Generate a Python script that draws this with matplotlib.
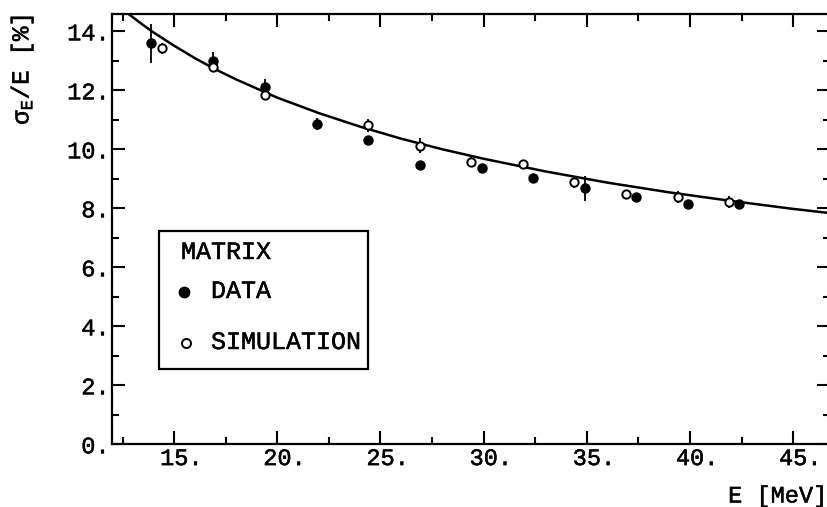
import matplotlib
matplotlib.use('Agg')
import matplotlib.pyplot as plt
import matplotlib.patheffects as pe
from matplotlib.patches import Rectangle
from matplotlib.lines import Line2D

plt.rcParams['font.family'] = ['Liberation Mono', 'DejaVu Sans']
plt.rcParams['mathtext.fontset'] = 'custom'
plt.rcParams['mathtext.rm'] = 'Liberation Mono'
plt.rcParams['mathtext.it'] = 'Liberation Mono'
plt.rcParams['mathtext.bf'] = 'Liberation Mono:bold'

# measured resolution (filled points)
data_E = [13.9, 16.9, 19.4, 21.9, 24.4, 26.9, 29.9, 32.4, 34.9, 37.4, 39.9, 42.4]
data_res = [13.6, 13.0, 12.1, 10.85, 10.3, 9.48, 9.38, 9.02, 8.68, 8.39, 8.14, 8.14]
data_err = [0.66, 0.3, 0.28, 0.2, 0.15, 0.1, 0.1, 0.15, 0.43, 0.08, 0.08, 0.08]

# simulated resolution (open points)
sim_E = [14.4, 16.9, 19.4, 24.4, 26.9, 29.4, 31.9, 34.4, 36.9, 39.4, 41.9]
sim_res = [13.42, 12.8, 11.84, 10.82, 10.12, 9.58, 9.49, 8.88, 8.48, 8.39, 8.22]
sim_err = [0.2, 0.15, 0.15, 0.22, 0.25, 0.15, 0.15, 0.2, 0.15, 0.2, 0.2]

# fitted curve
fit_E = [12.8, 13.5, 14, 15, 16, 17, 18, 20, 22, 24, 26, 28, 30, 33, 36, 39, 42, 45, 47]
fit_res = [14.58, 14.21, 13.96, 13.51, 13.09, 12.71, 12.37, 11.75, 11.23, 10.77,
           10.36, 10.00, 9.68, 9.25, 8.87, 8.54, 8.25, 7.98, 7.82]

x_major = [15, 20, 25, 30, 35, 40, 45]
x_minor = [12.5, 17.5, 22.5, 27.5, 32.5, 37.5, 42.5]
y_major = [0, 2, 4, 6, 8, 10, 12, 14]
y_minor = [1, 3, 5, 7, 9, 11, 13]

W, H = 828, 507
fs = 17
thick = [pe.withStroke(linewidth=0.35, foreground='black')]

fig = plt.figure(figsize=(W / 100, H / 100), dpi=100)
ax = fig.add_axes([112.3 / W, (H - 444.3) / H, (830 - 112.3) / W, (444.3 - 13.5) / H])
ax.set_xlim(12, 12 + (830 - 112.3) / 20.63)
ax.set_ylim(0, (444.3 - 13.5) / 29.5)

ax.plot(fit_E, fit_res, color='black', lw=1.8, zorder=2)
ax.errorbar(data_E, data_res, yerr=data_err, fmt='o', color='black', ms=6.5,
            elinewidth=1.3, capsize=0, zorder=3)
ax.errorbar(sim_E, sim_res, yerr=sim_err, fmt='o', color='black', mfc='white',
            mec='black', mew=1.4, ms=6, elinewidth=1.3, capsize=0, zorder=4)

for s in ax.spines.values():
    s.set_linewidth(1.6)

ax.set_xticks(x_major)
ax.set_xticklabels([' %d.' % v for v in x_major])
ax.set_xticks(x_minor, minor=True)
ax.set_yticks(y_major)
ax.set_yticklabels(['%d.' % v for v in y_major])
ax.set_yticks(y_minor, minor=True)
ax.tick_params(which='both', direction='in', top=True, right=True, width=1.5,
               labelsize=fs)
ax.tick_params(which='major', length=9.5)
ax.tick_params(which='minor', length=5)
ax.tick_params(axis='x', pad=2)
ax.tick_params(axis='y', pad=2)
for lab in ax.get_xticklabels() + ax.get_yticklabels():
    lab.set_path_effects(thick)

fig.text(22 / W, 1 - 15 / H, r'$\sigma_{\rm E}$/E [%]', rotation=90, ha='center',
         va='top', fontsize=fs + 0.5, path_effects=thick)
fig.text(827 / W, 1 - 496 / H, 'E [MeV]', ha='right', va='center', fontsize=fs,
         path_effects=thick)

# key box
fig.add_artist(Rectangle((159 / W, 1 - 369.3 / H), (368 - 159) / W, (369.3 - 230.7) / H,
                         transform=fig.transFigure, fill=False, lw=1.6, ec='black'))
fig.text(181 / W, 1 - 252 / H, 'MATRIX', ha='left', va='center', fontsize=fs + 1,
         path_effects=thick)
fig.add_artist(Line2D([184 / W], [1 - 291.5 / H], transform=fig.transFigure,
                      marker='o', ms=7.5, color='black', ls='none'))
fig.text(211 / W, 1 - 291 / H, 'DATA', ha='left', va='center', fontsize=fs + 1,
         path_effects=thick)
fig.add_artist(Line2D([186 / W], [1 - 343 / H], transform=fig.transFigure,
                      marker='o', ms=6.5, mfc='white', mec='black', mew=1.4, ls='none'))
fig.text(211 / W, 1 - 342 / H, 'SIMULATION', ha='left', va='center', fontsize=fs + 1,
         path_effects=thick)

fig.savefig('out.png', dpi=100)
